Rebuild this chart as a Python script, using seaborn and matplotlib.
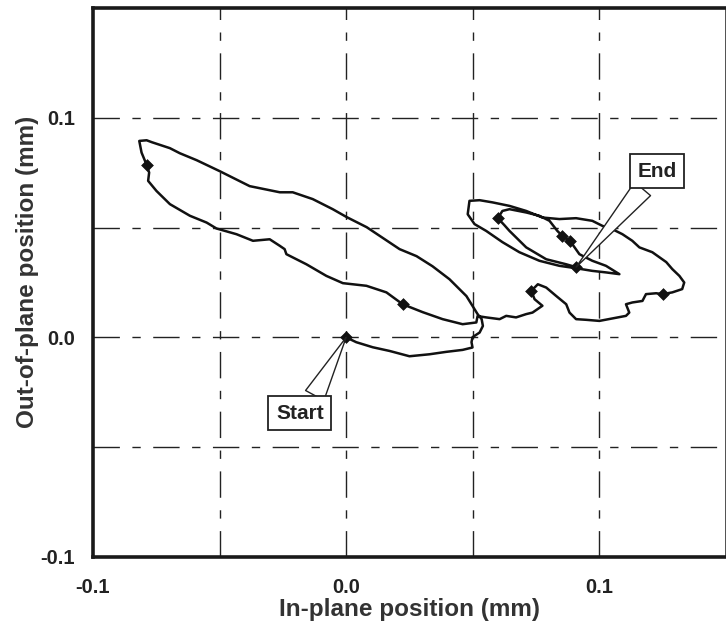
import matplotlib
matplotlib.use("Agg")
import matplotlib.pyplot as plt
import seaborn as sns
import pandas as pd
import numpy as np

# ---- data (mm) ----
path_x = [0.0, 0.0040, 0.0105, 0.0172, 0.0250, 0.0329, 0.0395, 0.0460, 0.0499, 0.0495, 0.0499, 0.0527, 0.0540, 0.0535,
          0.0519, 0.0475, 0.0408, 0.0341, 0.0278, 0.0211, 0.0081, 0.0002, -0.0053, -0.0132, -0.0211, -0.0262, -0.0381,
          -0.0499, -0.0590, -0.0657, -0.0696, -0.0767, -0.0788, -0.0817,
          -0.0808, -0.0788, -0.0778, -0.0782, -0.0749, -0.0696, -0.0617, -0.0551, -0.0512, -0.0433, -0.0368, -0.0302,
          -0.0262, -0.0243, -0.0236, -0.0157, -0.0078, -0.0013, 0.0080, 0.0159, 0.0223, 0.0302, 0.0381, 0.0460, 0.0514,
          0.0519,
          0.0553, 0.0606, 0.0632, 0.0671, 0.0711, 0.0736, 0.0775, 0.0744, 0.0731, 0.0757, 0.0790, 0.0829, 0.0869, 0.0882,
          0.0908, 0.0948, 0.1000, 0.1051, 0.1105, 0.1118, 0.1105, 0.1130, 0.1170, 0.1184, 0.1224, 0.1250, 0.1288, 0.1327,
          0.1335, 0.1316, 0.1288, 0.1264, 0.1209, 0.1158, 0.1130, 0.1091, 0.1051, 0.1012, 0.0972, 0.0908, 0.0842, 0.0775,
          0.0711, 0.0645, 0.0578, 0.0527, 0.0487, 0.0480, 0.0507, 0.0553, 0.0617, 0.0684, 0.0763, 0.0842, 0.0908, 0.0972,
          0.1026, 0.1079, 0.1026, 0.0972, 0.0921, 0.0893, 0.0882, 0.0854, 0.0834, 0.0803, 0.0763, 0.0711, 0.0645, 0.0617,
          0.0599, 0.0625, 0.0645, 0.0711, 0.0790, 0.0869, 0.0908]
path_y = [0.0, -0.0022, -0.0045, -0.0062, -0.0086, -0.0077, -0.0066, -0.0057, -0.0046, -0.0022, 0.0001, 0.0022, 0.0052,
          0.0083,
          0.0106, 0.0188, 0.0265, 0.0324, 0.0370, 0.0402, 0.0502, 0.0548, 0.0584, 0.0630, 0.0661, 0.0661, 0.0689, 0.0757,
          0.0807, 0.0839, 0.0862, 0.0889, 0.0898, 0.0895,
          0.0842, 0.0786, 0.0751, 0.0713, 0.0667, 0.0607, 0.0554, 0.0523, 0.0496, 0.0470, 0.0440, 0.0447, 0.0417, 0.0402,
          0.0379, 0.0333, 0.0280, 0.0247, 0.0235, 0.0205, 0.0151, 0.0115, 0.0083, 0.0060, 0.0068, 0.0097,
          0.0091, 0.0083, 0.0098, 0.0091, 0.0106, 0.0113, 0.0144, 0.0174, 0.0212, 0.0242, 0.0227, 0.0189, 0.0151, 0.0113,
          0.0083, 0.0080, 0.0075, 0.0086, 0.0098, 0.0113, 0.0151, 0.0159, 0.0166, 0.0197, 0.0201, 0.0197, 0.0205, 0.0220,
          0.0250, 0.0280, 0.0311, 0.0343, 0.0388, 0.0410, 0.0440, 0.0470, 0.0493, 0.0508, 0.0531, 0.0543, 0.0539, 0.0546,
          0.0576, 0.0599, 0.0615, 0.0625, 0.0622, 0.0561, 0.0516, 0.0485, 0.0434, 0.0388, 0.0349, 0.0326, 0.0315, 0.0303,
          0.0296, 0.0288, 0.0326, 0.0349, 0.0379, 0.0425, 0.0440, 0.0462, 0.0485, 0.0531, 0.0554, 0.0569, 0.0584, 0.0576,
          0.0543, 0.0511, 0.0485, 0.0410, 0.0356, 0.0333, 0.0320]

marker_x = [0.0, -0.0788, 0.0223, 0.0731, 0.1250, 0.0599, 0.0854, 0.0882, 0.0908]
marker_y = [0.0, 0.0786, 0.0151, 0.0212, 0.0197, 0.0543, 0.0462, 0.0440, 0.0320]

x_ticks = [-0.1, 0.0, 0.1]
y_ticks = [-0.1, 0.0, 0.1]
tick_labels = ["-0.1", "0.0", "0.1"]
grid_pos = [-0.05, 0.0, 0.05, 0.1]

annot_text = ["Start", "End"]
annot_xy = [(0.0, 0.0), (0.0908, 0.0320)]
annot_text_xy = [(-0.0183, -0.0345), (0.1229, 0.0757)]
annot_relpos = [(0.72, 1.0), (0.3, 0.0)]

# ---- plotting ----
sns.set_style("white")
plt.rcParams['font.family'] = ['Liberation Sans', 'DejaVu Sans']

fig = plt.figure(figsize=(7.26, 6.25), dpi=100)
ax = fig.add_axes([0.128, 0.109, 0.872, 0.878])

df = pd.DataFrame({"x": path_x, "y": path_y, "order": np.arange(len(path_x))})
mk = pd.DataFrame({"x": marker_x, "y": marker_y})

gkw = dict(color="#222222", lw=1.0, dashes=(19, 9, 6, 9), zorder=1)
for g in grid_pos:
    ax.axvline(g, **gkw)
    ax.axhline(g, **gkw)

sns.lineplot(data=df, x="x", y="y", sort=False, estimator=None, color="#111111",
             lw=1.8, ax=ax, zorder=3)
sns.scatterplot(data=mk, x="x", y="y", marker="D", s=36, color="#111111",
                edgecolor="#111111", ax=ax, zorder=4)

for t, xy, txy, rp in zip(annot_text, annot_xy, annot_text_xy, annot_relpos):
    ax.annotate(t, xy=xy, xytext=txy, ha="center", va="center",
                fontsize=15, fontweight="bold", color="#222222",
                bbox=dict(boxstyle="square,pad=0.36", fc="white", ec="#222222", lw=1.3),
                arrowprops=dict(arrowstyle="wedge,tail_width=1.0,shrink_factor=0.5",
                                fc="white", ec="#222222", lw=1.0,
                                shrinkA=0, shrinkB=0, relpos=rp),
                zorder=5)

ax.set_xlim(-0.1, 0.15)
ax.set_ylim(-0.1, 0.15)
ax.set_xticks(x_ticks)
ax.set_xticklabels(tick_labels)
ax.set_yticks(y_ticks)
ax.set_yticklabels(tick_labels)
ax.tick_params(axis="both", direction="in", length=0, labelsize=14.5,
               labelcolor="#222222")
ax.tick_params(axis="x", pad=15)
ax.tick_params(axis="y", pad=13)
for lab in ax.get_xticklabels() + ax.get_yticklabels():
    lab.set_fontweight("bold")

ax.set_xlabel("In-plane position (mm)", fontsize=17.5, fontweight="bold", color="#333333", labelpad=1)
ax.set_ylabel("Out-of-plane position (mm)", fontsize=17.5, fontweight="bold", color="#333333")
ax.yaxis.set_label_coords(-0.085, 0.52)

for side in ["left", "bottom", "top"]:
    ax.spines[side].set_linewidth(2.6)
    ax.spines[side].set_color("#1a1a1a")
ax.spines["right"].set_linewidth(1.2)
ax.spines["right"].set_color("#333333")

fig.savefig("out.png", dpi=100)
